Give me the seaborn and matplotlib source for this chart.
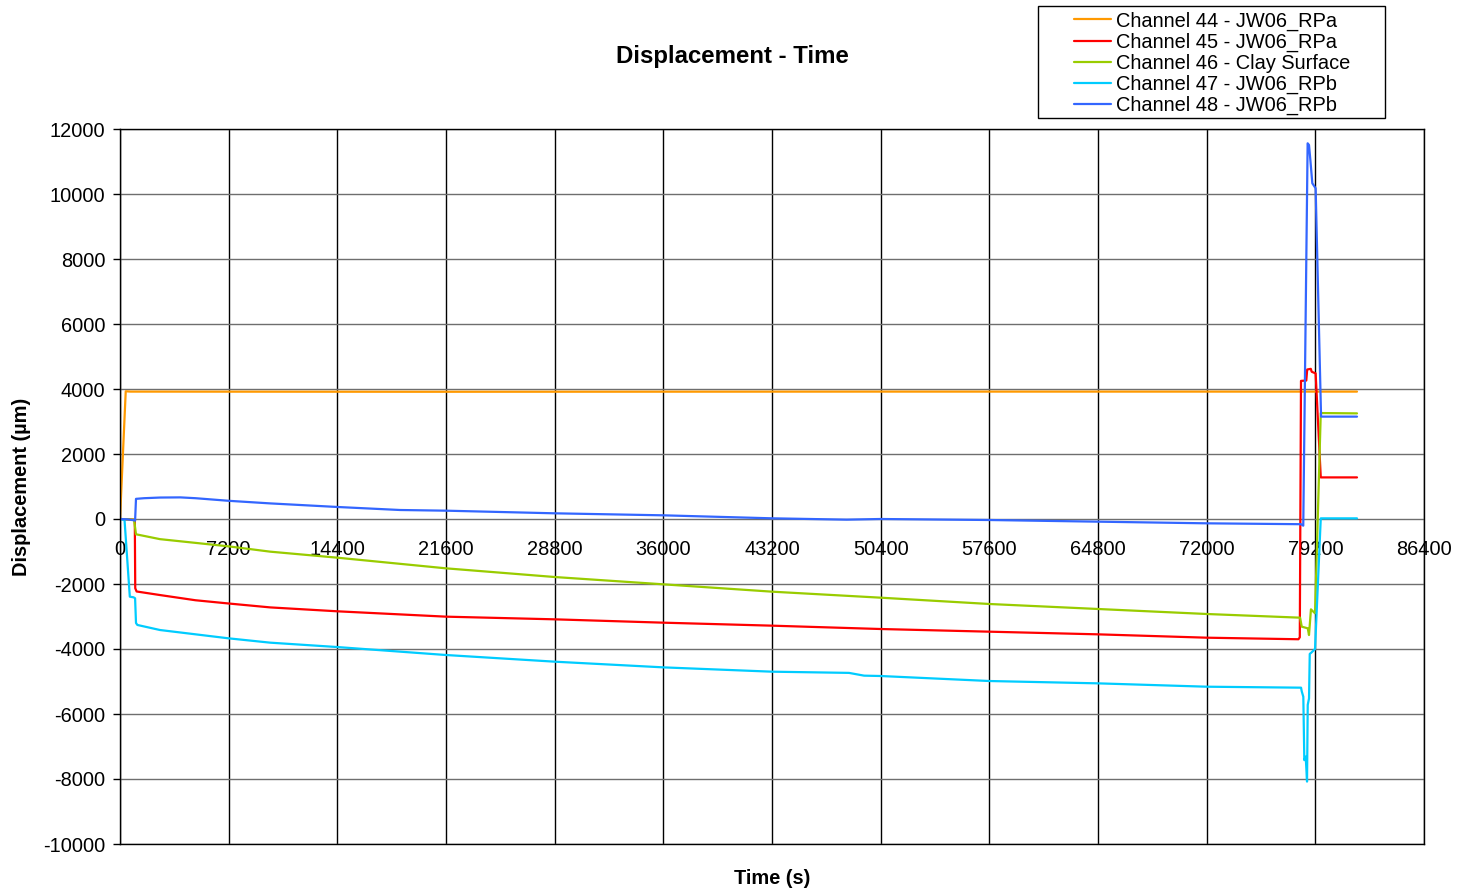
import matplotlib
matplotlib.use("Agg")
import matplotlib.pyplot as plt
from matplotlib.patches import Rectangle
from matplotlib.lines import Line2D
import pandas as pd
import seaborn as sns

# ---- data -------------------------------------------------------------
channels = [
    "Channel 44 - JW06_RPa",
    "Channel 45 - JW06_RPa",
    "Channel 46 - Clay Surface",
    "Channel 47 - JW06_RPb",
    "Channel 48 - JW06_RPb",
]
colors = ["#FF9900", "#FF0000", "#99CC00", "#00CCFF", "#3366FF"]

t44 = [0, 380, 700, 20000, 50000, 81960]
d44 = [0, 3930, 3920, 3915, 3920, 3920]

t45 = [0, 980, 1010, 1100, 2650, 5000, 7200, 9950, 14400, 21600, 28800,
       36000, 43200, 50400, 57600, 64800, 72000, 78080, 78170, 78250, 78600,
       78660, 78900, 78960, 79220, 79560, 81960]
d45 = [0, -20, -2130, -2230, -2340, -2500, -2600, -2720, -2840, -3005, -3087,
       -3190, -3282, -3385, -3467, -3549, -3652, -3700, -3640, 4250, 4260,
       4600, 4620, 4530, 4480, 1280, 1280]

t46 = [0, 930, 1060, 2650, 7200, 9950, 14400, 21600, 28800, 36000, 43200,
       50400, 57600, 64800, 72000, 78190, 78300, 78700, 78780, 78910, 79180,
       79560, 81960]
d46 = [0, -20, -470, -620, -842, -1005, -1190, -1518, -1785, -2010, -2236,
       -2421, -2615, -2769, -2923, -3036, -3313, -3364, -3570, -2780, -2902,
       3260, 3250]

t47 = [0, 300, 650, 900, 1000, 1060, 1150, 2650, 7200, 9950, 14400, 21600,
       28800, 36000, 43200, 48300, 49300, 50400, 57600, 64800, 72000, 78254,
       78298, 78404, 78470, 78563, 78650, 78696, 78782, 78830, 78915, 79180,
       79560, 81960]
d47 = [0, -30, -2390, -2410, -2440, -3200, -3260, -3416, -3672, -3805, -3940,
       -4185, -4390, -4565, -4698, -4735, -4820, -4831, -4985, -5057, -5160,
       -5190, -5300, -5470, -7420, -7310, -8080, -5720, -5520, -4150, -4120,
       -4000, 20, 20]

t48 = [0, 500, 930, 1000, 1060, 1600, 2650, 4000, 5000, 7200, 9950, 14400,
       18550, 21600, 28800, 36000, 43200, 48150, 50400, 57600, 64800, 72000,
       78250, 78400, 78690, 78780, 78870, 79000, 79220, 79580, 81960]
d48 = [0, -10, -40, -50, 620, 640, 660, 665, 640, 560, 480, 370, 277, 256,
       175, 113, 21, -20, 0, -31, -82, -133, -160, -205, 11560, 11508, 11050,
       10330, 10176, 3150, 3150]

x_ticks = list(range(0, 86401, 7200))
y_ticks = list(range(-10000, 12001, 2000))

# ---- styling ----------------------------------------------------------
sns.set_theme(style="white")
plt.rcParams["font.family"] = ["Liberation Sans", "DejaVu Sans"]
plt.rcParams["axes.unicode_minus"] = False
for key in ("text.color", "axes.labelcolor", "xtick.color", "ytick.color"):
    plt.rcParams[key] = "black"

W, H = 1458, 896
fig = plt.figure(figsize=(W / 100, H / 100), dpi=100)
ax = fig.add_axes([120 / W, 1 - 844 / H, 1304 / W, 715 / H])

frames = []
for name, t, d in zip(channels, [t44, t45, t46, t47, t48],
                      [d44, d45, d46, d47, d48]):
    frames.append(pd.DataFrame({"Time (s)": t, "Displacement": d,
                                "Channel": name}))
df = pd.concat(frames, ignore_index=True)

sns.lineplot(data=df, x="Time (s)", y="Displacement", hue="Channel",
             hue_order=channels, palette=colors, estimator=None, sort=False,
             linewidth=1.6, legend=False, ax=ax)

ax.set_xlim(0, 86400)
ax.set_ylim(-10000, 12000)
ax.set_xticks(x_ticks)
ax.set_yticks(y_ticks)
ax.set_axisbelow(True)
ax.xaxis.grid(True, color="black", linewidth=1.0)
ax.yaxis.grid(True, color="#6e6e6e", linewidth=1.0)
for sp in ax.spines.values():
    sp.set_color("black")
    sp.set_linewidth(1.0)

ax.tick_params(axis="x", labelbottom=False, length=0)
ax.tick_params(axis="y", direction="out", length=5, width=1, color="black",
               pad=5.5, labelsize=14.4, labelcolor="black", left=True)
ax.set_xlabel("")
ax.set_ylabel("")

# x tick labels sit on the zero line
zero_frac = (0 - (-10000)) / (12000 - (-10000))
sec = ax.secondary_xaxis(zero_frac)
sec.set_xticks(x_ticks)
sec.tick_params(length=0, pad=15, labelsize=14.4, labelcolor="black")
for sp in sec.spines.values():
    sp.set_visible(False)

fig.text(772 / W, 1 - 878 / H, "Time (s)", ha="center", va="center",
         fontsize=14.4, fontweight="bold")
fig.text(22 / W, 1 - 487 / H, "Displacement (\u00b5m)", ha="center",
         va="center", rotation=90, fontsize=14.4, fontweight="bold")
fig.text(732 / W, 1 - 57 / H, "Displacement - Time", ha="center",
         va="center", fontsize=17.3, fontweight="bold")

# legend with its own box
fig.patches.append(Rectangle((1038 / W, 1 - 118 / H), 347 / W, 112 / H,
                             transform=fig.transFigure, fill=False,
                             edgecolor="black", linewidth=1.0))
handles = [Line2D([], [], color=c, linewidth=1.6) for c in colors]
fig.legend(handles, channels, loc="upper left",
           bbox_to_anchor=(1074 / W, 1 - 11.5 / H),
           bbox_transform=fig.transFigure, frameon=False, borderpad=0,
           borderaxespad=0, fontsize=14.4, labelspacing=0.095,
           handlelength=1.85, handletextpad=0.25)

fig.savefig("out.png", dpi=100)
